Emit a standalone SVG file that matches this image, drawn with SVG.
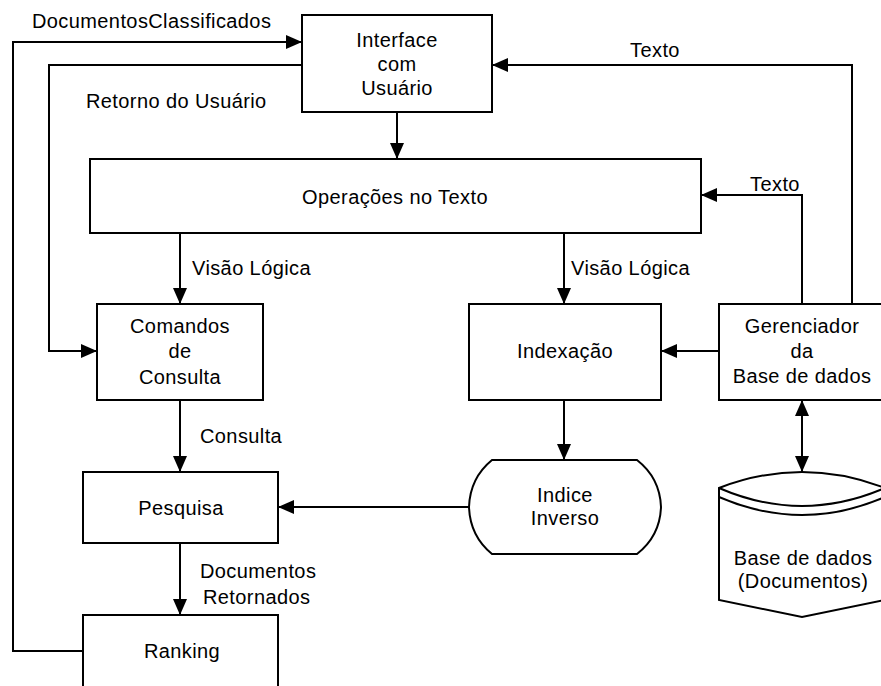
<svg xmlns="http://www.w3.org/2000/svg" width="881" height="686" viewBox="0 0 881 686">
  <style>
    .box { fill: #fff; stroke: #000; stroke-width: 2; }
    .wire { fill: none; stroke: #000; stroke-width: 2; }
    text { font-family: "Liberation Sans", Arial, sans-serif; font-size: 20px; letter-spacing: 0.4px; fill: #000; }
    .c { text-anchor: middle; }
  </style>
  <defs>
    <marker id="arrow" viewBox="0 0 16 14" refX="16" refY="7" markerWidth="16" markerHeight="14" markerUnits="userSpaceOnUse" orient="auto-start-reverse">
      <path d="M0,0 L16,7 L0,14 Z" fill="#000"/>
    </marker>
  </defs>

  <rect width="881" height="686" fill="#fff"/>

  <!-- connectors -->
  <g id="connectors">
    <path class="wire" d="M83,651 H13 V42 H302" marker-end="url(#arrow)"/>
    <path class="wire" d="M302,65 H49 V351 H97" marker-end="url(#arrow)"/>
    <path class="wire" d="M397,112 V159" marker-end="url(#arrow)"/>
    <path class="wire" d="M852,304 V65 H492" marker-end="url(#arrow)"/>
    <path class="wire" d="M802,304 V195 H701" marker-end="url(#arrow)"/>
    <path class="wire" d="M180,233 V304" marker-end="url(#arrow)"/>
    <path class="wire" d="M564,233 V304" marker-end="url(#arrow)"/>
    <path class="wire" d="M719,351 H661" marker-end="url(#arrow)"/>
    <path class="wire" d="M564,400 V460" marker-end="url(#arrow)"/>
    <path class="wire" d="M469,507 H278" marker-end="url(#arrow)"/>
    <path class="wire" d="M180,400 V472" marker-end="url(#arrow)"/>
    <path class="wire" d="M180,543 V615" marker-end="url(#arrow)"/>
    <path class="wire" d="M802,400 V472" marker-start="url(#arrow)" marker-end="url(#arrow)"/>

    <text x="32" y="28">DocumentosClassificados</text>
    <text x="86" y="108">Retorno do Usuário</text>
    <text x="655" y="57" class="c">Texto</text>
    <text x="775" y="191" class="c">Texto</text>
    <text x="192" y="275">Visão Lógica</text>
    <text x="571" y="275">Visão Lógica</text>
    <text x="200" y="443">Consulta</text>
    <text x="200" y="578">Documentos</text>
    <text x="203" y="604">Retornados</text>
  </g>

  <g id="interface">
    <rect class="box" x="302" y="15" width="190" height="97"/>
    <text x="397" y="47" class="c">Interface</text>
    <text x="397" y="71" class="c">com</text>
    <text x="397" y="95" class="c">Usuário</text>
  </g>

  <g id="operacoes">
    <rect class="box" x="90" y="159" width="611" height="74"/>
    <text x="395" y="204" class="c">Operações no Texto</text>
  </g>

  <g id="comandos">
    <rect class="box" x="97" y="304" width="166" height="96"/>
    <text x="180" y="333" class="c">Comandos</text>
    <text x="180" y="358" class="c">de</text>
    <text x="180" y="384" class="c">Consulta</text>
  </g>

  <g id="indexacao">
    <rect class="box" x="469" y="304" width="192" height="96"/>
    <text x="565" y="358" class="c">Indexação</text>
  </g>

  <g id="gerenciador">
    <rect class="box" x="719" y="304" width="180" height="96"/>
    <text x="802" y="333" class="c">Gerenciador</text>
    <text x="802" y="358" class="c">da</text>
    <text x="802" y="383" class="c">Base de dados</text>
  </g>

  <g id="indice">
    <path class="box" d="M492,460 H637 Q660,478 661,507 Q660,536 637,554 H492 Q470,536 469,507 Q470,478 492,460 Z"/>
    <text x="565" y="502" class="c">Indice</text>
    <text x="565" y="525" class="c">Inverso</text>
  </g>

  <g id="pesquisa">
    <rect class="box" x="83" y="472" width="195" height="71"/>
    <text x="181" y="515" class="c">Pesquisa</text>
  </g>

  <g id="ranking">
    <rect class="box" x="83" y="615" width="195" height="90"/>
    <text x="182" y="658" class="c">Ranking</text>
  </g>

  <g id="base-dados">
    <path class="box" d="M719,488 Q802,456 885,488 V600 L802,617 L719,600 Z"/>
    <path class="wire" d="M719,488 Q802,524 885,488"/>
    <path class="wire" d="M719,497 Q802,533 885,497"/>
    <text x="803" y="565" class="c">Base de dados</text>
    <text x="803" y="588" class="c">(Documentos)</text>
  </g>
</svg>
